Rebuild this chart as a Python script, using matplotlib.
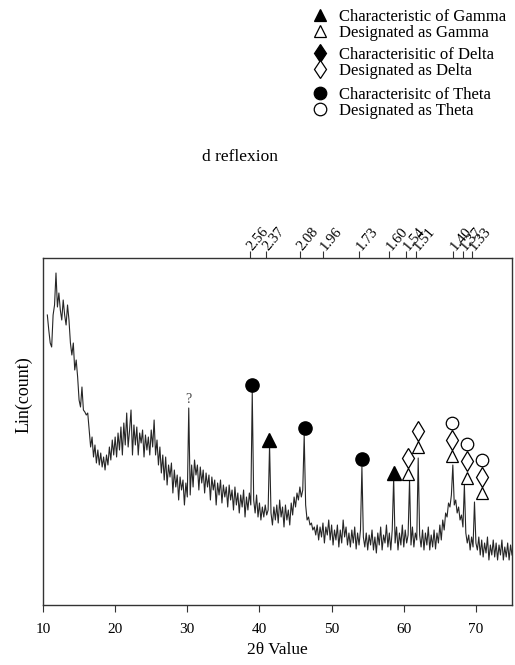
import numpy as np
import matplotlib
matplotlib.use("Agg")
import matplotlib.pyplot as plt
from matplotlib.lines import Line2D

plt.rcParams['font.family'] = ['Liberation Serif', 'DejaVu Serif']

# XRD trace, 2theta grid in 0.2 deg steps from 10.6 to 75.0
two_theta = np.round(np.arange(10.6, 75.01, 0.2), 1)
counts = [
    290, 275, 262, 258, 290, 300, 332, 298, 312, 295,   # 10.6 - 12.4
    285, 305, 290, 280, 300, 285, 262, 250, 262, 235,   # 12.6 - 14.4
    245, 228, 205, 198, 218, 195, 193, 190, 192, 175,   # 14.6 - 16.4
    158, 168, 148, 160, 142, 155, 140, 152, 138, 148,   # 16.6 - 18.4
    135, 150, 140, 158, 145, 165, 150, 168, 148, 172,   # 18.6 - 20.4
    155, 178, 150, 182, 160, 192, 158, 175, 195, 150,   # 20.6 - 22.4
    180, 160, 178, 150, 172, 162, 175, 148, 170, 155,   # 22.6 - 24.4
    168, 150, 175, 158, 185, 150, 165, 140, 158, 132,   # 24.6 - 26.4
    150, 125, 148, 120, 140, 128, 142, 112, 135, 118,   # 26.6 - 28.4
    130, 105, 128, 115, 125, 100, 122, 108, 197, 110,   # 28.6 - 30.4
    140, 118, 145, 130, 140, 115, 138, 122, 135, 112,   # 30.6 - 32.4
    132, 118, 130, 105, 128, 115, 125, 100, 122, 110,   # 32.6 - 34.4
    125, 102, 120, 108, 118, 98, 120, 105, 115, 95,     # 34.6 - 36.4
    118, 100, 112, 92, 110, 98, 115, 88, 108, 95,       # 36.6 - 38.4
    112, 100, 213, 105, 92, 110, 88, 102, 85, 98,       # 38.6 - 40.4
    88, 100, 90, 95, 160, 92, 80, 98, 85, 100,          # 40.6 - 42.4
    82, 105, 88, 98, 78, 100, 85, 95, 80, 102,          # 42.6 - 44.4
    90, 108, 98, 112, 105, 118, 108, 115, 170, 100,     # 44.6 - 46.4
    85, 88, 80, 82, 75, 78, 70, 80, 65, 78,             # 46.6 - 48.4
    68, 82, 62, 78, 70, 85, 65, 80, 60, 75,             # 48.6 - 50.4
    65, 80, 58, 75, 62, 85, 68, 78, 60, 72,             # 50.6 - 52.4
    58, 75, 62, 78, 56, 72, 60, 75, 138, 68,            # 52.6 - 54.4
    58, 72, 55, 70, 60, 75, 55, 68, 52, 72,             # 54.6 - 56.4
    60, 78, 55, 70, 62, 80, 58, 72, 55, 75,             # 56.6 - 58.4
    127, 62, 78, 55, 72, 60, 80, 58, 75, 62,            # 58.6 - 60.4
    70, 125, 60, 78, 58, 72, 65, 147, 70, 58,           # 60.6 - 62.4
    75, 55, 72, 60, 78, 55, 70, 58, 75, 56,             # 62.6 - 64.4
    72, 62, 80, 65, 85, 75, 92, 88, 102, 98,            # 64.6 - 66.4
    110, 140, 100, 105, 92, 98, 85, 90, 78, 120,        # 66.6 - 68.4
    72, 62, 70, 55, 68, 58, 103, 62, 55, 68,            # 68.6 - 70.4
    50, 65, 48, 62, 52, 68, 45, 60, 50, 65,             # 70.6 - 72.4
    48, 62, 45, 60, 50, 65, 45, 58, 48, 62,             # 72.6 - 74.4
    45, 60, 50,                                          # 74.6 - 75.0
]

# phase markers (filled = characteristic, open = designated)
gamma_fill_x = [41.35, 58.6]
gamma_fill_y = [165, 132]
theta_fill_x = [39.0, 46.25, 54.2]
theta_fill_y = [220, 177, 146]

gamma_open_x = [60.55, 61.93, 66.63, 68.7, 70.9]
gamma_open_y = [131, 158, 149, 127, 112]
delta_open_x = [60.55, 61.93, 66.63, 68.7, 70.9]
delta_open_y = [147, 174, 165, 144, 128]
theta_open_x = [66.63, 68.7, 70.9]
theta_open_y = [182, 161, 145]

# top axis: d spacing positions
d_pos = [38.69, 40.9, 45.6, 48.8, 53.8, 57.9, 60.3, 61.7, 66.8, 68.2, 69.4]
d_labels = ['2.56', '2.37', '2.08', '1.96', '1.73', '1.60', '1.54', '1.51', '1.40', '1.37', '1.33']

fig = plt.figure(figsize=(5.15, 6.65), dpi=100)
ax = fig.add_axes([43 / 515, 1 - 605 / 665, 469 / 515, 347 / 665])

ax.plot(two_theta, counts, color='#262626', lw=0.8)
ax.text(30.2, 199, '?', ha='center', va='bottom', fontsize=10, color='#444444')

ms = 9.5
dms = 10
ax.plot(theta_fill_x, theta_fill_y, 'o', ms=ms, color='black', ls='none', zorder=5)
ax.plot(gamma_fill_x, gamma_fill_y, '^', ms=ms, color='black', ls='none', zorder=5)
ax.plot(gamma_open_x, gamma_open_y, '^', ms=ms - 0.5, mfc='white', mec='black', mew=0.9, ls='none', zorder=5)
ax.plot(delta_open_x, delta_open_y, 'd', ms=dms, mfc='white', mec='black', mew=0.9, ls='none', zorder=5)
ax.plot(theta_open_x, theta_open_y, 'o', ms=ms - 0.5, mfc='white', mec='black', mew=0.9, ls='none', zorder=5)

ax.set_xlim(10, 75)
ax.set_ylim(0, 347)
ax.set_xticks([10, 20, 30, 40, 50, 60, 70])
ax.set_yticks([])
ax.tick_params(axis='x', direction='out', length=5, pad=8, labelsize=11, color='#333333')
for s in ax.spines.values():
    s.set_color('#333333')
    s.set_linewidth(1.0)
ax.set_xlabel('2θ Value', fontsize=12.5, labelpad=4)
ax.set_ylabel('Lin(count)', fontsize=13)
ax.yaxis.set_label_coords(-0.022, 0.605)

ax2 = ax.twiny()
ax2.set_xlim(ax.get_xlim())
ax2.set_xticks(d_pos)
ax2.set_xticklabels(d_labels, rotation=50, ha='left', va='center', rotation_mode='anchor')
ax2.tick_params(axis='x', direction='out', length=5, pad=2, labelsize=10.5, color='#333333')
for s in ax2.spines.values():
    s.set_visible(False)
fig.text(240 / 515, 1 - 157 / 665, 'd reflexion', ha='center', va='center', fontsize=12.5)

# legend, three groups
groups = [
    [('^', 'black', 'Characteristic of Gamma'), ('^', 'white', 'Designated as Gamma')],
    [('d', 'black', 'Characterisitic of Delta'), ('d', 'white', 'Designated as Delta')],
    [('o', 'black', 'Characterisitc of Theta'), ('o', 'white', 'Designated as Theta')],
]
tops = [9, 47, 87]
for grp, top in zip(groups, tops):
    handles = [Line2D([], [], marker=m, ls='none', ms=(dms if m == 'd' else ms) * 0.95,
                      mfc=fc, mec='black', mew=0.9) for m, fc, _ in grp]
    fig.legend(handles, [t for _, _, t in grp], loc='upper left',
               bbox_to_anchor=(312 / 515, 1 - top / 665), frameon=False,
               fontsize=12, handlelength=1.0, handletextpad=0.6,
               labelspacing=0.0, borderpad=0, borderaxespad=0)

fig.savefig('out.png', dpi=100)
